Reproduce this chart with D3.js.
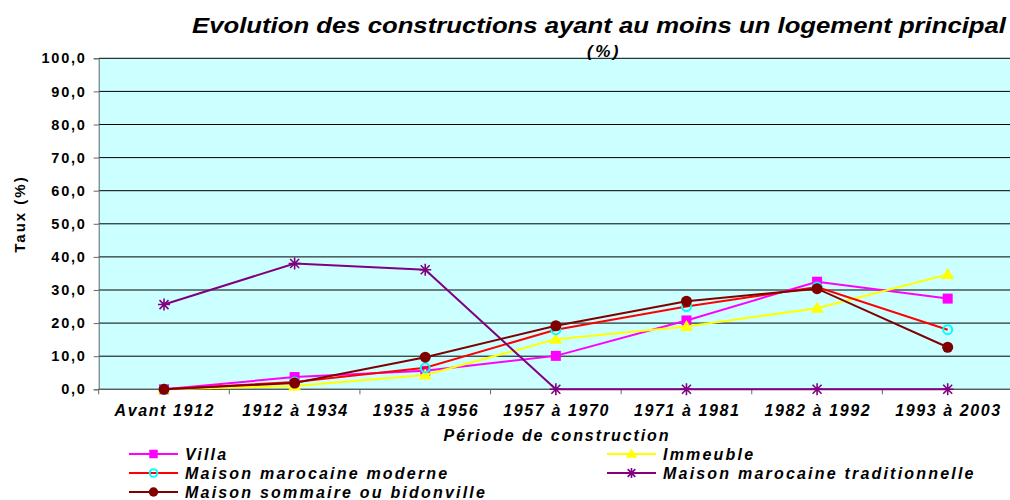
<!DOCTYPE html>
<html><head><meta charset="utf-8">
<script src="https://cdn.jsdelivr.net/npm/d3@7"></script>
<style>body{margin:0;background:#fff}svg{display:block}text{font-family:"Liberation Sans",Arial,sans-serif}</style>
</head><body>
<svg id="c" width="1010" height="500"></svg>
<script>
const categories = ["Avant 1912","1912 à 1934","1935 à 1956","1957 à 1970","1971 à 1981","1982 à 1992","1993 à 2003"];
const villa = [0, 3.7, 5.6, 10.1, 20.8, 32.5, 27.4];
const immeuble = [0, 1.0, 4.3, 15.1, 19.0, 24.5, 34.7];
const moderne = [0, 2.2, 6.5, 18.0, 25.0, 30.9, 18.0];
const traditionnelle = [25.6, 38.0, 36.1, 0, 0, 0, 0];
const bidonville = [0, 1.9, 9.7, 19.2, 26.6, 30.4, 12.7];
const yTicks = [0,10,20,30,40,50,60,70,80,90,100];
const seriesNames = ["Villa","Immeuble","Maison marocaine moderne","Maison marocaine traditionnelle","Maison sommaire ou bidonville"];

const series = [
  {name: seriesNames[0], values: villa, color: "#FF00FF", marker: "square"},
  {name: seriesNames[1], values: immeuble, color: "#FFFF00", marker: "triangle"},
  {name: seriesNames[2], values: moderne, color: "#FF0000", marker: "ocircle"},
  {name: seriesNames[3], values: traditionnelle, color: "#800080", marker: "star"},
  {name: seriesNames[4], values: bidonville, color: "#800000", marker: "circle"}
];

const svg = d3.select("#c");
const L = 98.7, R = 1013, T = 58.3, B = 389.3;
const x = d3.scalePoint().domain(categories).range([L, R]).padding(0.5);
const y = d3.scaleLinear().domain([0, 100]).range([B, T]);

svg.append("rect").attr("x", L).attr("y", T).attr("width", R - L).attr("height", B - T).attr("fill", "#CCFFFF");

svg.append("g").selectAll("line").data(yTicks).join("line")
  .attr("x1", L).attr("x2", R).attr("y1", d => y(d)).attr("y2", d => y(d))
  .attr("stroke", "#000").attr("stroke-width", 1);

const fmt = d => d.toFixed(1).replace(".", ",");
const yAxis = svg.append("g").attr("transform", `translate(${L},0)`)
  .call(d3.axisLeft(y).tickValues(yTicks).tickFormat(fmt).tickSize(5).tickPadding(7));
yAxis.select(".domain").attr("stroke", "#666");
yAxis.selectAll(".tick line").attr("stroke", "#666");
yAxis.selectAll("text").attr("font-size", 14.5).attr("font-weight", "bold").attr("fill", "#000")
  .attr("letter-spacing", 1.8).attr("font-family", "Liberation Sans, Arial, sans-serif");

const step = x.step();
const xb = svg.append("g").attr("transform", `translate(0,${B})`);
xb.append("line").attr("x1", L).attr("x2", R).attr("stroke", "#666");
xb.selectAll("line.t").data(d3.range(categories.length + 1)).join("line").attr("class", "t")
  .attr("x1", i => L + i * step).attr("x2", i => L + i * step).attr("y1", 0).attr("y2", 5).attr("stroke", "#666");
xb.selectAll("text").data(categories).join("text")
  .attr("x", d => x(d) + 0.8).attr("y", 27).attr("text-anchor", "middle")
  .attr("font-size", 16).attr("letter-spacing", 1.6).attr("font-weight", "bold").attr("font-style", "italic").text(d => d);

const line = d3.line().x((d, i) => x(categories[i])).y(d => y(d));
function marker(g, type, color, cx, cy, s) {
  if (type === "square") {
    g.append("rect").attr("x", cx - 5*s).attr("y", cy - 5*s).attr("width", 10*s).attr("height", 10*s).attr("fill", color);
  } else if (type === "triangle") {
    g.append("path").attr("d", `M${cx},${cy - 6.5*s} L${cx + 6.5*s},${cy + 4.5*s} L${cx - 6.5*s},${cy + 4.5*s} Z`).attr("fill", color);
  } else if (type === "ocircle") {
    g.append("circle").attr("cx", cx).attr("cy", cy).attr("r", 4.5*s).attr("fill", "none").attr("stroke", "#00FFFF").attr("stroke-width", 2);
  } else if (type === "circle") {
    g.append("circle").attr("cx", cx).attr("cy", cy).attr("r", 5.5*s).attr("fill", color);
  } else if (type === "star") {
    const r = 6*s;
    g.append("path").attr("d",
      `M${cx - r},${cy} L${cx + r},${cy} M${cx - r*0.75},${cy - r*0.75} L${cx + r*0.75},${cy + r*0.75} M${cx - r*0.75},${cy + r*0.75} L${cx + r*0.75},${cy - r*0.75} M${cx},${cy - r} L${cx},${cy + r}`)
      .attr("stroke", color).attr("stroke-width", 1.6).attr("fill", "none");
  }
}
series.forEach(s => {
  const g = svg.append("g");
  g.append("path").datum(s.values).attr("d", line).attr("fill", "none").attr("stroke", s.color).attr("stroke-width", 2);
  s.values.forEach((v, i) => marker(g, s.marker, s.color, x(categories[i]), y(v), 1));
});

svg.append("text").attr("x", 599).attr("y", 33).attr("text-anchor", "middle")
  .attr("font-size", 22).attr("font-weight", "bold").attr("font-style", "italic")
  .attr("textLength", 814).attr("lengthAdjust", "spacingAndGlyphs")
  .text("Evolution des constructions ayant au moins un logement principal");
svg.append("text").attr("x", 604).attr("y", 57).attr("text-anchor", "middle")
  .attr("font-size", 17).attr("letter-spacing", 2.5).attr("font-weight", "bold").attr("font-style", "italic").text("(%)");
svg.append("text").attr("transform", "translate(25,214) rotate(-90)").attr("text-anchor", "middle")
  .attr("font-size", 15).attr("letter-spacing", 2).attr("font-weight", "bold").text("Taux (%)");
svg.append("text").attr("x", 557).attr("y", 441).attr("text-anchor", "middle")
  .attr("font-size", 16).attr("letter-spacing", 1.9).attr("font-weight", "bold").attr("font-style", "italic").text("Période de construction");

const legPos = [[129, 454], [607, 454], [129, 473], [607, 473], [129, 492]];
series.forEach((s, i) => {
  const [lx, ly] = legPos[i];
  const g = svg.append("g");
  g.append("line").attr("x1", lx).attr("x2", lx + 49).attr("y1", ly).attr("y2", ly).attr("stroke", s.color).attr("stroke-width", 2);
  marker(g, s.marker, s.color, lx + 24.5, ly, 0.85);
  g.append("text").attr("x", lx + 56).attr("y", ly + 5.5).attr("font-size", 16).attr("letter-spacing", 2.2)
    .attr("font-weight", "bold").attr("font-style", "italic").text(s.name);
});
</script>
</body></html>
